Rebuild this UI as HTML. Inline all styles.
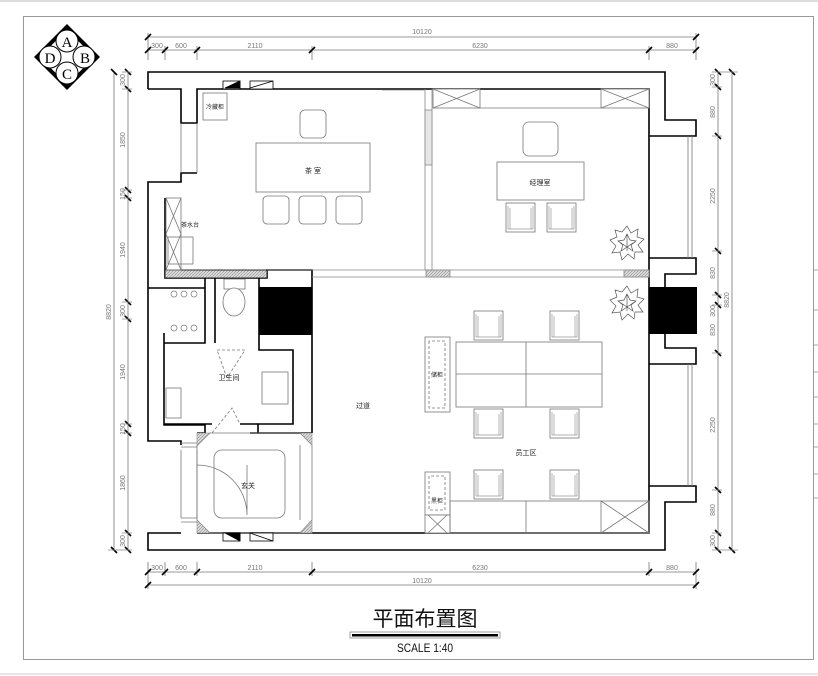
<!DOCTYPE html>
<html><head><meta charset="utf-8"><style>
html,body{margin:0;padding:0;background:#fff;}
svg{display:block;}
text{font-family:"Liberation Sans","Noto Sans CJK SC",sans-serif;}
</style></head><body>
<svg width="818" height="676" viewBox="0 0 818 676" xmlns="http://www.w3.org/2000/svg">
<defs>
<pattern id="h" width="3" height="3" patternUnits="userSpaceOnUse"><rect width="3" height="3" fill="#ddd"/><path d="M0 3L3 0" stroke="#888" stroke-width="0.6"/></pattern>
<g id="ch"><rect x="0" y="0" width="29" height="29" fill="#fff" stroke="#777" stroke-width="0.8"/><path d="M2 3V26H27V3M4 26V5M25 26V5" fill="none" stroke="#999" stroke-width="0.7"/></g>
<g id="pl" fill="none" stroke="#555" stroke-width="0.7"><path d="M0-17L4-10L11-14L10-6L17-4L11 2L16 9L8 9L7 16L1 11L-5 17L-7 9L-15 10L-11 3L-17-3L-10-6L-12-13L-5-11Z"/><path d="M0-9L3-3L9-2L4 2L6 8L0 4L-6 8L-4 2L-9-2L-3-3Z M0-9V8M-9-2L6 8M9-2L-6 8"/></g>
</defs>
<rect width="818" height="676" fill="#fff"/>
<line x1="0" y1="1" x2="818" y2="1" stroke="#bbb"/>
<line x1="0" y1="674" x2="818" y2="674" stroke="#ccc"/>
<rect x="23.5" y="16.5" width="790" height="643" fill="none" stroke="#999"/>
<g stroke="#aaa" stroke-width="1"><line x1="814" y1="270" x2="818" y2="270"/><line x1="814" y1="310" x2="818" y2="310"/><line x1="814" y1="345" x2="818" y2="345"/><line x1="814" y1="372" x2="818" y2="372"/><line x1="814" y1="397" x2="818" y2="397"/><line x1="814" y1="424" x2="818" y2="424"/><line x1="814" y1="447" x2="818" y2="447"/><line x1="814" y1="474" x2="818" y2="474"/><line x1="814" y1="498" x2="818" y2="498"/></g>

<!-- compass -->
<g>
<polygon points="67,24 100,57 67,90 34,57" fill="#000"/>
<polygon points="67,29 95,57 67,85 39,57" fill="#fff" stroke="#000"/>
<circle cx="67" cy="41" r="11" fill="#fff" stroke="#000"/>
<circle cx="84" cy="57" r="11" fill="#fff" stroke="#000"/>
<circle cx="67" cy="73" r="11" fill="#fff" stroke="#000"/>
<circle cx="50" cy="57" r="11" fill="#fff" stroke="#000"/>
<g font-size="15" text-anchor="middle">
<text x="67" y="47" style="font-family:'Liberation Serif',serif">A</text>
<text x="85" y="63" style="font-family:'Liberation Serif',serif">B</text>
<text x="67" y="79" style="font-family:'Liberation Serif',serif">C</text>
<text x="50" y="63" style="font-family:'Liberation Serif',serif">D</text>
</g>
</g>

<!-- dimensions -->
<g stroke="#777" stroke-width="0.8" fill="none">
<line x1="148" y1="37" x2="696" y2="37"/>
<line x1="148" y1="50" x2="696" y2="50"/>
<line x1="148" y1="572" x2="696" y2="572"/>
<line x1="148" y1="585" x2="696" y2="585"/>
<line x1="114" y1="72" x2="114" y2="551"/>
<line x1="128" y1="72" x2="128" y2="551"/>
<line x1="718" y1="72" x2="718" y2="551"/>
<line x1="732" y1="72" x2="732" y2="551"/>
<g>
<line x1="148" y1="46" x2="148" y2="60"/><line x1="165" y1="46" x2="165" y2="60"/><line x1="197" y1="46" x2="197" y2="60"/><line x1="312" y1="46" x2="312" y2="60"/><line x1="649" y1="46" x2="649" y2="60"/><line x1="696" y1="33" x2="696" y2="60"/><line x1="148" y1="33" x2="148" y2="46"/>
<line x1="148" y1="562" x2="148" y2="589"/><line x1="165" y1="562" x2="165" y2="576"/><line x1="197" y1="562" x2="197" y2="576"/><line x1="312" y1="562" x2="312" y2="576"/><line x1="649" y1="562" x2="649" y2="576"/><line x1="696" y1="562" x2="696" y2="589"/>
</g>
</g>
<g stroke="#000" stroke-width="1.6">
<path d="M145 40l6-6M145 53l6-6M162 53l6-6M194 53l6-6M309 53l6-6M646 53l6-6M693 53l6-6M693 40l6-6"/>
<path d="M145 575l6-6M162 575l6-6M194 575l6-6M309 575l6-6M646 575l6-6M693 575l6-6M145 588l6-6M693 588l6-6"/>
<path d="M111 69l6 6M125 69l6 6M125 86l6 6M125 187l6 6M125 195l6 6M125 299l6 6M125 316l6 6M125 421l6 6M125 430l6 6M125 530l6 6M125 547l6 6M111 547l6 6"/>
<path d="M715 69l6 6M729 69l6 6M715 84l6 6M715 133l6 6M715 248l6 6M715 292l6 6M715 302l6 6M715 350l6 6M715 487l6 6M715 530l6 6M715 547l6 6M729 547l6 6"/>
</g>
<g stroke="#888" stroke-width="0.8">
<path d="M122 72h10M122 89h10M122 190h10M122 198h10M122 302h10M122 319h10M122 424h10M122 433h10M122 533h10M108 550h24"/>
<path d="M712 72h26M712 87h10M712 136h10M712 251h10M712 295h10M712 305h10M712 353h10M712 490h10M712 533h10M712 550h26"/>
</g>
<g font-size="7" fill="#777" text-anchor="middle">
<text x="422" y="34">10120</text>
<text x="157" y="48">300</text><text x="181" y="48">600</text><text x="255" y="48">2110</text><text x="480" y="48">6230</text><text x="672" y="48">880</text>
<text x="157" y="570">300</text><text x="181" y="570">600</text><text x="255" y="570">2110</text><text x="480" y="570">6230</text><text x="672" y="570">880</text>
<text x="422" y="583">10120</text>
<g transform="rotate(-90)">
<text x="-80" y="125">300</text><text x="-140" y="125">1850</text><text x="-194" y="125">150</text><text x="-250" y="125">1940</text><text x="-311" y="125">300</text><text x="-372" y="125">1940</text><text x="-429" y="125">150</text><text x="-483" y="125">1860</text><text x="-541" y="125">300</text>
<text x="-312" y="111">8820</text>
<text x="-80" y="715">300</text><text x="-112" y="715">880</text><text x="-196" y="715">2250</text><text x="-273" y="715">830</text><text x="-311" y="715">300</text><text x="-330" y="715">830</text><text x="-425" y="715">2250</text><text x="-510" y="715">880</text><text x="-541" y="715">300</text>
<text x="-300" y="729">8820</text>
</g>
</g>

<!-- walls -->
<g fill="none" stroke="#000" stroke-width="1.6">
<path d="M148 89V72H665V120H696V136H649"/>
<path d="M649 258H696V274H665V287"/>
<path d="M665 334V348H696V364H649"/>
<path d="M649 486H696V502H665V550H148V533H181"/>
<path d="M148 89H181V123H197V89H649V533H197"/>
<path d="M197 173H181V182H148V441H181V445"/>
<path d="M165 198V278H267V270H312V433"/>
<path d="M164 333V425H205V433H197"/>
<path d="M250 433H312"/>
<path d="M205 277V343H164M205 288H148"/>
<path d="M215 277V343"/>
<path d="M259 277V350H293V424H258V433"/>
<path d="M164 424H212M240 424H258"/>
</g>
<rect x="649" y="287" width="48" height="47" fill="#000"/>
<rect x="259" y="287" width="53" height="48" fill="#000"/>
<rect x="165" y="270" width="102" height="8" fill="url(#h)" stroke="#000" stroke-width="0.8"/>
<g stroke="#777" stroke-width="0.8" fill="none">
<path d="M688 136V258M692 136V258M688 364V486M692 364V486"/>
<path d="M181 450V518M197 450V518M181 443h16M181 447h16M181 518h16M181 522h16"/>
<path d="M181 123V173M197 123V173"/>
</g>
<g stroke="#888" stroke-width="0.8" fill="none">
<path d="M425 89V270M432 89V270M267 270H649M312 277H649"/>
<rect x="425" y="110" width="7" height="55" fill="#e6e6e6"/>
<rect x="426" y="270" width="24" height="7" fill="url(#h)"/>
<rect x="624" y="270" width="25" height="7" fill="url(#h)"/>
<path d="M382 90H425"/>
</g>

<g stroke="#777" stroke-width="0.8" fill="#fff">
<rect x="203" y="93" width="24" height="27"/>
<rect x="256" y="143" width="114" height="49"/>
<rect x="300" y="110" width="26" height="28" rx="5"/>
<rect x="263" y="196" width="26" height="28" rx="4"/>
<rect x="299" y="196" width="27" height="28" rx="4"/>
<rect x="336" y="196" width="26" height="28" rx="4"/>
<rect x="166" y="198" width="15" height="72" fill="none"/>
<path d="M166 198L181 234M181 198L166 234M166 234L181 270M181 234L166 270" fill="none"/>
<rect x="168" y="237" width="25" height="27" fill="none"/>
<rect x="433" y="89" width="47" height="19"/>
<path d="M433 89L480 108M480 89L433 108" fill="none"/>
<rect x="601" y="89" width="48" height="19"/>
<path d="M601 89L649 108M649 89L601 108" fill="none"/>
<path d="M480 108H601" fill="none"/>
<rect x="497" y="162" width="87" height="38"/>
<rect x="523" y="122" width="35" height="34" rx="6"/>
<rect x="456" y="342" width="146" height="65"/>
<path d="M526 342V407M456 374H602" fill="none"/>
<rect x="425" y="337" width="25" height="75"/>
<rect x="425" y="472" width="25" height="43"/>
<rect x="425" y="515" width="25" height="18"/>
<path d="M428 515L447 533M447 515L428 533" fill="none"/>
<rect x="450" y="501" width="199" height="32" fill="none"/>
<path d="M526 501V533M601 501V533M601 501L649 533M649 501L601 533" fill="none"/>
<rect x="224" y="279" width="21" height="10"/>
<ellipse cx="234" cy="302" rx="11" ry="14"/>
<rect x="262" y="372" width="26" height="32"/>
<rect x="166" y="388" width="15" height="30"/>
<path d="M210 433H300L312 445V520L300 533H210L197 520V445Z" fill="none"/>
<rect x="214" y="450" width="71" height="68" rx="8" fill="none"/>
<path d="M197 465A50 50 0 0 1 247 515M247 515V465" fill="none"/>
<path d="M300 445V520" fill="none"/>
</g>
<use href="#ch" x="506" y="203"/><use href="#ch" x="547" y="203"/>
<use href="#ch" x="474" y="311"/><use href="#ch" x="550" y="311"/>
<use href="#ch" x="474" y="409"/><use href="#ch" x="550" y="409"/>
<use href="#ch" x="474" y="470"/><use href="#ch" x="550" y="470"/>
<g stroke="#777" stroke-width="0.8" fill="none" stroke-dasharray="3,2">
<path d="M217 350L245 350L227 378M227 378L217 350"/>
<path d="M212 433L232 408L240 424"/>
<path d="M429 341V408H445V341Z M429 476V510H445V476Z"/>
</g>
<g fill="#fff" stroke="#777" stroke-width="0.7">
<circle cx="174" cy="294" r="3"/><circle cx="184" cy="294" r="3"/><circle cx="194" cy="294" r="3"/>
<circle cx="174" cy="328" r="3"/><circle cx="184" cy="328" r="3"/><circle cx="194" cy="328" r="3"/>
</g>
<g fill="url(#h)" stroke="#888" stroke-width="0.6">
<polygon points="197,433 210,433 197,446"/><polygon points="300,433 312,433 312,445"/>
<polygon points="197,520 210,533 197,533"/><polygon points="312,520 312,533 300,533"/>
</g>
<g stroke="#000" stroke-width="0.8">
<rect x="223" y="81" width="17" height="8" fill="#fff"/><polygon points="225,88 240,81 240,88" fill="#000"/>
<rect x="250" y="81" width="23" height="8" fill="#fff"/><line x1="250" y1="88" x2="273" y2="81"/>
<rect x="223" y="533" width="17" height="8" fill="#fff"/><polygon points="225,533 240,533 240,541" fill="#000"/>
<rect x="250" y="533" width="23" height="8" fill="#fff"/><line x1="250" y1="533" x2="273" y2="541"/>
</g>
<use href="#pl" x="627" y="243"/>
<use href="#pl" x="627" y="303"/>
<g font-size="7" fill="#222" text-anchor="middle">
<text x="215" y="109" font-size="6">冷藏柜</text>
<text x="313" y="173">茶 室</text>
<text x="190" y="227" font-size="6">茶水台</text>
<text x="540" y="185">经理室</text>
<text x="229" y="380">卫生间</text>
<text x="363" y="408">过道</text>
<text x="437" y="377" font-size="6">储柜</text>
<text x="526" y="455">员工区</text>
<text x="437" y="503" font-size="6">黑柜</text>
<text x="248" y="488">玄关</text>
</g>
<text x="425" y="626" font-size="21" text-anchor="middle" fill="#111" style="font-family:'Noto Sans CJK SC',sans-serif">平面布置图</text>
<rect x="350" y="632" width="150" height="6" fill="none" stroke="#777" stroke-width="0.7"/>
<rect x="352" y="634" width="146" height="2.5" fill="#000"/>
<text x="425" y="652" font-size="12" text-anchor="middle" fill="#111" transform="translate(425 0) scale(0.85 1) translate(-425 0)">SCALE 1:40</text>
</svg>
</body></html>
